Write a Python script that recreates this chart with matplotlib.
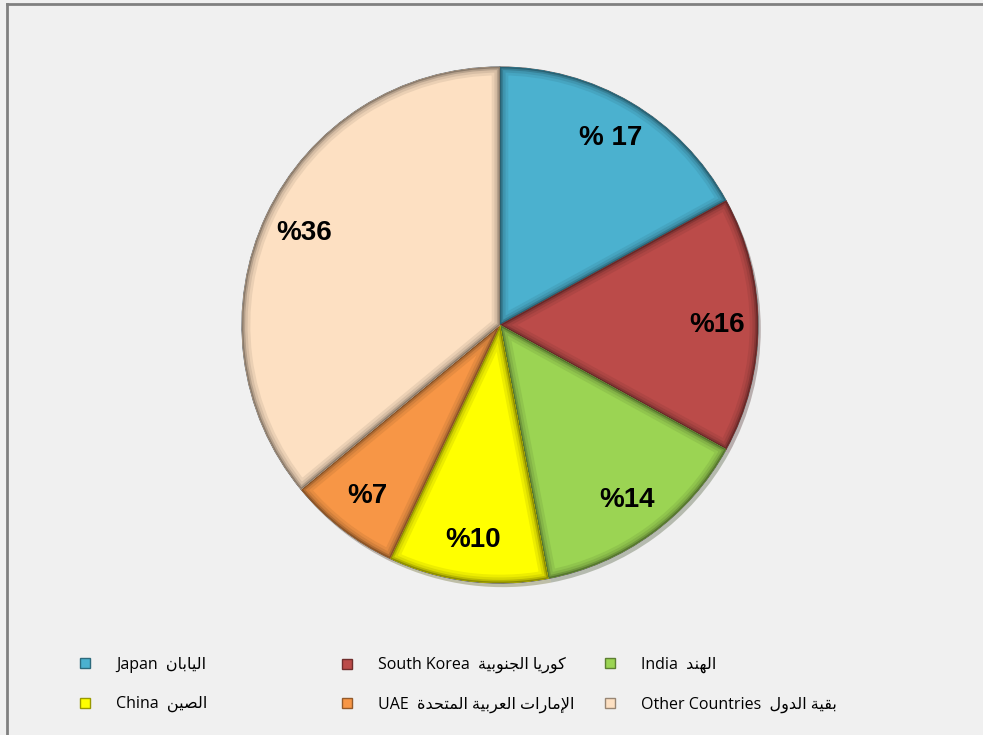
import matplotlib
matplotlib.use('Agg')
import matplotlib.pyplot as plt
import matplotlib.patheffects as pe
from matplotlib.lines import Line2D
from matplotlib.patches import Wedge
from matplotlib.colors import to_rgb

# data
countries_en = ['Japan', 'South Korea', 'India', 'China', 'UAE', 'Other Countries']
countries_ar = ['اليابان', 'كوريا الجنوبية', 'الهند', 'الصين', 'الإمارات العربية المتحدة', 'بقية الدول']
shares = [17, 16, 14, 10, 7, 36]
pct_labels = ['% 17', '%16', '%14', '%10', '%7', '%36']
colors = ['#4bb1cf', '#bb4b49', '#9bd453', '#ffff00', '#f79646', '#fde0c2']

# tiny arabic shaper: presentation forms (isolated, final, initial, medial)
FORMS = {
    'ا': ('\uFE8D', '\uFE8E', None, None),
    'إ': ('\uFE87', '\uFE88', None, None),
    'ب': ('\uFE8F', '\uFE90', '\uFE91', '\uFE92'),
    'ة': ('\uFE93', '\uFE94', None, None),
    'ت': ('\uFE95', '\uFE96', '\uFE97', '\uFE98'),
    'ج': ('\uFE9D', '\uFE9E', '\uFE9F', '\uFEA0'),
    'ح': ('\uFEA1', '\uFEA2', '\uFEA3', '\uFEA4'),
    'د': ('\uFEA9', '\uFEAA', None, None),
    'ر': ('\uFEAD', '\uFEAE', None, None),
    'ص': ('\uFEB9', '\uFEBA', '\uFEBB', '\uFEBC'),
    'ع': ('\uFEC9', '\uFECA', '\uFECB', '\uFECC'),
    'ق': ('\uFED5', '\uFED6', '\uFED7', '\uFED8'),
    'ك': ('\uFED9', '\uFEDA', '\uFEDB', '\uFEDC'),
    'ل': ('\uFEDD', '\uFEDE', '\uFEDF', '\uFEE0'),
    'م': ('\uFEE1', '\uFEE2', '\uFEE3', '\uFEE4'),
    'ن': ('\uFEE5', '\uFEE6', '\uFEE7', '\uFEE8'),
    'ه': ('\uFEE9', '\uFEEA', '\uFEEB', '\uFEEC'),
    'و': ('\uFEED', '\uFEEE', None, None),
    'ي': ('\uFEF1', '\uFEF2', '\uFEF3', '\uFEF4'),
    'لا': ('\uFEFB', '\uFEFC', None, None),
    'لإ': ('\uFEF9', '\uFEFA', None, None),
}


def shape_ar(s):
    toks = []
    i = 0
    while i < len(s):
        if s[i] == 'ل' and i + 1 < len(s) and s[i + 1] in 'اإ':
            toks.append(s[i:i + 2])
            i += 2
        else:
            toks.append(s[i])
            i += 1
    out = []
    for k, t in enumerate(toks):
        if t not in FORMS:
            out.append(t)
            continue
        prev = toks[k - 1] if k > 0 else None
        nxt = toks[k + 1] if k + 1 < len(toks) else None
        jp = prev in FORMS and FORMS[prev][2] is not None
        jn = FORMS[t][2] is not None and nxt in FORMS
        f = FORMS[t]
        if jp and jn:
            out.append(f[3])
        elif jp:
            out.append(f[1])
        elif jn:
            out.append(f[2])
        else:
            out.append(f[0])
    return ''.join(out)[::-1]


def shade(c, k):
    return tuple(v * k for v in to_rgb(c))


W, H = 983, 735
fig = plt.figure(figsize=(W / 100, H / 100), dpi=100)
fig.patch.set_facecolor('#f0f0f0')

# frame lines (left and top)
fig.add_artist(Line2D([7 / W, 7 / W], [0, 1 - 4 / H], color='#808080', lw=2))
fig.add_artist(Line2D([7 / W, 1], [1 - 4 / H, 1 - 4 / H], color='#808080', lw=2))

cx, cy, r = 500, 325, 258
ax = fig.add_axes([(cx - r) / W, (H - cy - r) / H, 2 * r / W, 2 * r / H])
ax.set_facecolor('none')

wedges, texts = ax.pie(shares, labels=pct_labels, colors=colors, startangle=90,
                       counterclock=False, labeldistance=0.84,
                       wedgeprops=dict(linewidth=0.8, edgecolor='#4a4a4a'),
                       textprops=dict(fontsize=20, fontweight='bold',
                                      family=['Liberation Sans', 'DejaVu Sans']))
for w in wedges:
    w.set_path_effects([pe.SimplePatchShadow(offset=(2, -3), alpha=0.3),
                        pe.Normal()])

# soft inner bevel, clipped to each slice
for w, c in zip(wedges, colors):
    for lw, k in [(12, 0.93), (8, 0.85), (4.5, 0.72), (2, 0.55)]:
        b = Wedge(w.center, w.r, w.theta1, w.theta2, facecolor='none',
                  edgecolor=shade(c, k), lw=lw, zorder=w.get_zorder() + 0.1)
        ax.add_patch(b)
        b.set_clip_path(w)

for t in texts:
    t.set_ha('center')
    t.set_va('center')
    t.set_zorder(5)
ax.set_xlim(-1, 1)
ax.set_ylim(-1, 1)

# legend: three columns, two rows
leg_font = dict(family=['Open Sans', 'DejaVu Sans'], size=11.5)
col_x = [84, 346, 609]
rows = [[0, 3], [1, 4], [2, 5]]
for x, idx in zip(col_x, rows):
    handles = [Line2D([], [], ls='none', marker='s', markersize=7,
                      markerfacecolor=colors[i],
                      markeredgecolor=shade(colors[i], 0.6))
               for i in idx]
    labs = [countries_en[i] + '  ' + shape_ar(countries_ar[i]) for i in idx]
    fig.legend(handles, labs, loc='upper left',
               bbox_to_anchor=((x - 7) / W, 1 - 657 / H),
               frameon=False, prop=leg_font, handlelength=1.0,
               handletextpad=1.45, borderpad=0, borderaxespad=0,
               labelspacing=1.45)

fig.savefig('out.png', dpi=100, facecolor=fig.get_facecolor())
